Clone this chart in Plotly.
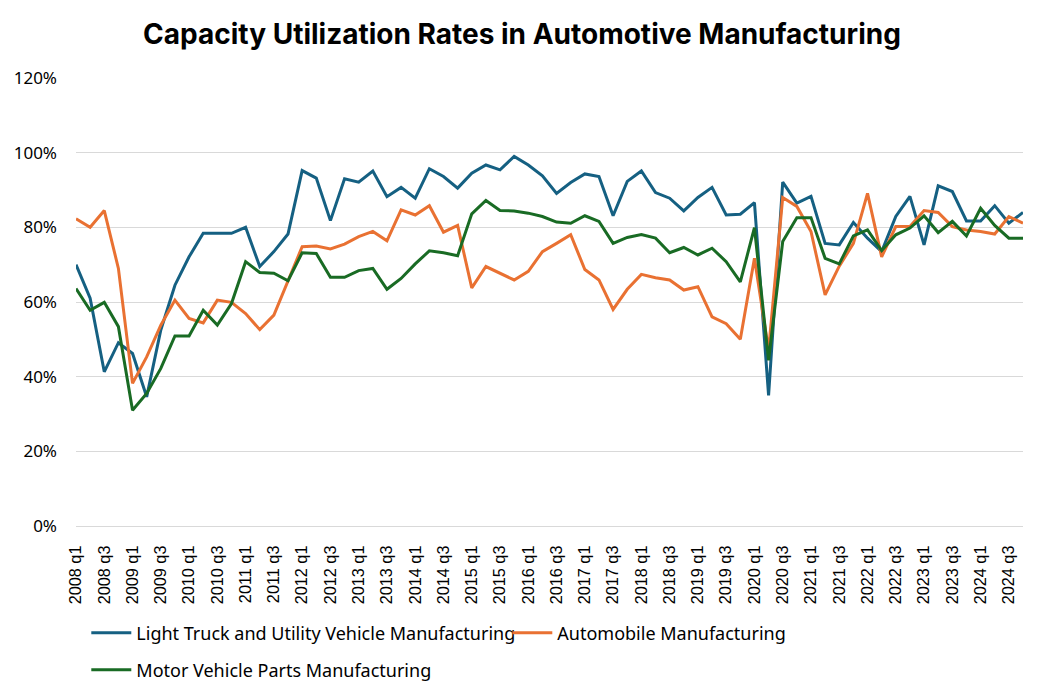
import plotly.graph_objects as go

quarters = [f"{y} q{q}" for y in range(2008, 2025) for q in range(1, 5)]

light_truck = [
    70.0, 61.0, 41.3, 49.1, 46.2, 34.6, 52.5, 64.5, 72.1, 78.4, 78.4, 78.4,
    80.0, 69.5, 73.5, 78.2, 95.2, 93.2, 81.8, 93.0, 92.1, 95.1, 88.2, 90.7,
    87.8, 95.7, 93.6, 90.5, 94.5, 96.7, 95.4, 99.0, 96.7, 93.8, 89.1, 92.0,
    94.3, 93.6, 83.1, 92.3, 95.1, 89.3, 87.8, 84.4, 88.0, 90.7, 83.3, 83.5,
    86.6, 35.0, 92.1, 86.5, 88.3, 75.7, 75.3, 81.3, 77.1, 73.5, 82.9, 88.3,
    75.3, 91.1, 89.6, 81.7, 81.7, 85.8, 81.1, 84.0,
]
automobile = [
    82.3, 80.0, 84.5, 69.0, 38.2, 45.3, 53.8, 60.5, 55.6, 54.4, 60.5, 59.9,
    56.9, 52.6, 56.5, 65.9, 74.8, 75.0, 74.2, 75.5, 77.5, 78.9, 76.4, 84.7,
    83.3, 85.8, 78.7, 80.5, 63.8, 69.5, 67.7, 65.9, 68.2, 73.5, 75.7, 78.0,
    68.7, 65.9, 58.0, 63.4, 67.4, 66.5, 65.9, 63.2, 64.1, 56.0, 54.2, 50.0,
    71.7, 47.1, 88.0, 85.6, 78.9, 61.9, 69.6, 75.7, 89.1, 72.1, 80.2, 80.2,
    84.5, 84.0, 80.2, 79.3, 78.9, 78.2, 82.9, 81.1,
]
parts = [
    63.6, 57.8, 59.9, 53.4, 31.0, 35.5, 42.2, 50.9, 50.9, 57.8, 53.8, 59.6,
    70.8, 67.9, 67.7, 65.7, 73.2, 73.0, 66.6, 66.6, 68.4, 69.0, 63.4, 66.3,
    70.2, 73.7, 73.2, 72.4, 83.6, 87.2, 84.5, 84.4, 83.8, 82.9, 81.4, 81.1,
    83.1, 81.6, 75.7, 77.3, 78.1, 77.1, 73.2, 74.6, 72.6, 74.4, 70.8, 65.4,
    79.9, 44.4, 76.2, 82.6, 82.6, 71.7, 70.2, 77.7, 79.3, 73.8, 78.0, 79.8,
    83.1, 78.6, 81.6, 77.7, 85.1, 80.5, 77.1, 77.1,
]

# (name, values, colour, which legend box)
series = [
    ("Light Truck and Utility Vehicle Manufacturing", light_truck, "#156082", "legend"),
    ("Automobile Manufacturing", automobile, "#E97132", "legend"),
    ("Motor Vehicle Parts Manufacturing", parts, "#196B24", "legend2"),
]

fig = go.Figure()
for name, values, colour, leg in series:
    fig.add_trace(go.Scatter(
        x=quarters,
        y=[v / 100 for v in values],
        mode="lines",
        name=name,
        legend=leg,
        line=dict(color=colour, width=3),
    ))
# tighten the gap before the second legend entry
fig.data[0].legendwidth = 366

legend_style = dict(
    orientation="h",
    xref="container", yref="container",
    x=0.075, xanchor="left", yanchor="top",
    font=dict(family="Noto Sans", size=18, color="black"),
    bgcolor="rgba(0,0,0,0)",
    itemwidth=40,
)

# page body adds an 8px offset, so margins are shifted to compensate
fig.update_layout(
    width=1044,
    height=698,
    paper_bgcolor="white",
    plot_bgcolor="white",
    margin=dict(l=68, r=29, t=70, b=180, autoexpand=False),
    title=dict(
        text="<b>Capacity Utilization Rates in Automotive Manufacturing</b>",
        x=0.4923, xanchor="center", y=0.963, yanchor="middle",
        font=dict(family="Inter", size=28, color="black"),
    ),
    font=dict(family="Noto Sans", color="black"),
    legend=dict(y=0.131, **legend_style),
    legend2=dict(y=0.078, **legend_style),
    showlegend=True,
)

fig.update_xaxes(
    type="category",
    tickmode="array",
    tickvals=quarters[::2],
    tickangle=-90,
    tickfont=dict(family="Liberation Sans", size=16.3, color="black"),
    showgrid=False,
    showline=True,
    linecolor="#d9d9d9",
    linewidth=1,
    ticks="",
    ticklabelstandoff=12,
    automargin=False,
)
fig.update_yaxes(
    range=[0, 1.2],
    dtick=0.2,
    tickformat=".0%",
    tickfont=dict(family="Noto Sans", size=17, color="black"),
    showgrid=True,
    gridcolor="#d9d9d9",
    gridwidth=1,
    zeroline=False,
    ticks="",
    ticklabelstandoff=18,
    automargin=False,
)

fig.write_html("out.html")
